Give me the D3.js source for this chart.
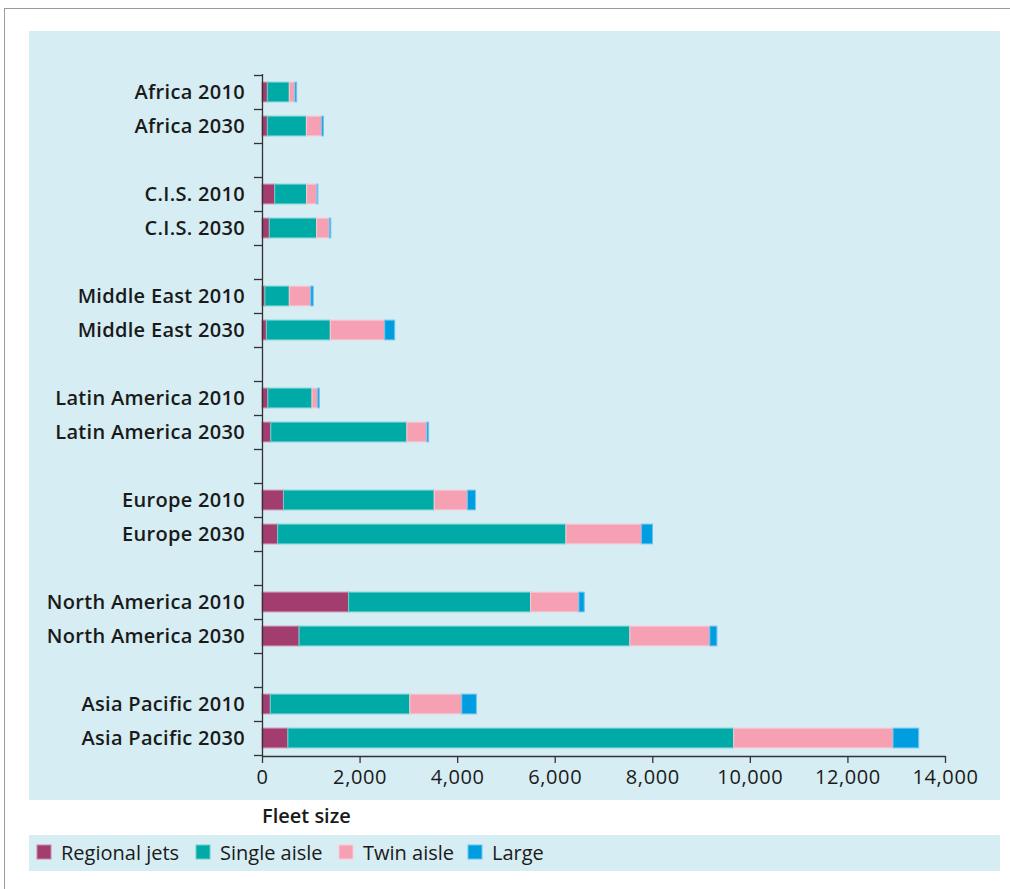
<!DOCTYPE html>
<html><head><meta charset="utf-8">
<script src="https://cdn.jsdelivr.net/npm/d3@7/dist/d3.min.js"></script>
<style>
html,body{margin:0;padding:0;background:#fff;}
svg{display:block;}
text{font-family:"Open Sans",sans-serif;fill:#1a1a1a;}
</style></head><body>
<svg id="c" width="1010" height="889"></svg>
<script>
const categories = ["Africa 2010","Africa 2030","","C.I.S. 2010","C.I.S. 2030","",
  "Middle East 2010","Middle East 2030","","Latin America 2010","Latin America 2030","",
  "Europe 2010","Europe 2030","","North America 2010","North America 2030","",
  "Asia Pacific 2010","Asia Pacific 2030"];
const seriesNames = ["Regional jets","Single aisle","Twin aisle","Large"];
const regionalJets = [110,110,null,260,150,null,60,90,null,120,180,null,440,320,null,1775,760,null,170,530];
const singleAisle  = [450,800,null,655,970,null,500,1310,null,905,2790,null,3090,5910,null,3730,6780,null,2860,9140];
const twinAisle    = [115,315,null,210,260,null,440,1115,null,115,410,null,680,1550,null,990,1640,null,1065,3265];
const large        = [35,35,null,20,30,null,50,205,null,35,35,null,165,225,null,110,145,null,300,525];
const xTicks = [0,2000,4000,6000,8000,10000,12000,14000];
const colors = ["#a33d6f","#00aba7","#f6a0b4","#009ee0"];
const strokes = ["#c98aa8","#6fcfcb","#fbc9d5","#6cc4ee"];

const svg = d3.select("#c");
// outer frame
svg.append("line").attr("x1",4).attr("x2",1010).attr("y1",8.5).attr("y2",8.5).attr("stroke","#9a9a9a").attr("stroke-width",1);
svg.append("line").attr("x1",4.5).attr("x2",4.5).attr("y1",8).attr("y2",889).attr("stroke","#9a9a9a").attr("stroke-width",1);
// panels
svg.append("rect").attr("x",29).attr("y",31).attr("width",971).attr("height",769).attr("fill","#d5edf3");
svg.append("rect").attr("x",29).attr("y",835).attr("width",971).attr("height",36).attr("fill","#d5edf3");

const x = d3.scaleLinear().domain([0,14000]).range([262,945]);
const idx = d3.range(categories.length);
const y = d3.scaleBand().domain(idx).range([75,755]).paddingInner(0.42).paddingOuter(0.21);
const yLine = d3.scaleBand().domain(idx).range([75,755]);

const data = idx.map(i => ({i, vals:[regionalJets[i],singleAisle[i],twinAisle[i],large[i]]}));
const g = svg.append("g");
data.forEach(d => {
  if (d.vals[0] == null) return;
  let acc = 0;
  d.vals.forEach((v,k) => {
    g.append("rect")
      .attr("x", x(acc)).attr("y", y(d.i))
      .attr("width", x(acc+v)-x(acc)).attr("height", y.bandwidth())
      .attr("fill", colors[k]).attr("stroke", strokes[k]).attr("stroke-width",1);
    acc += v;
  });
});

// y axis line + ticks
const axisColor = "#333";
svg.append("line").attr("x1",262.5).attr("x2",262.5).attr("y1",74).attr("y2",756).attr("stroke",axisColor).attr("stroke-width",1.3);
const bounds = idx.map(i => yLine(i)).concat([755]);
svg.selectAll(".yt").data(bounds).enter().append("line")
  .attr("x1",254).attr("x2",262).attr("y1",d=>d+0.5).attr("y2",d=>d+0.5)
  .attr("stroke",axisColor).attr("stroke-width",1.3);
// y labels
svg.selectAll(".yl").data(data.filter(d=>categories[d.i])).enter().append("text")
  .attr("x",245).attr("y",d=>y(d.i)+y.bandwidth()/2).attr("dy","0.35em")
  .attr("text-anchor","end").attr("font-size",20).attr("font-weight",600)
  .attr("letter-spacing","0.3")
  .text(d=>categories[d.i]);

// x axis
const xa = svg.append("g").attr("transform","translate(0,756)")
  .call(d3.axisBottom(x).tickValues(xTicks).tickFormat(d3.format(",")).tickSize(7).tickSizeOuter(0));
xa.select(".domain").attr("stroke",axisColor).attr("stroke-width",1.3);
xa.selectAll(".tick line").attr("stroke",axisColor).attr("stroke-width",1.3);
xa.selectAll(".tick text").attr("font-size",20).attr("font-family","Open Sans").attr("fill","#1a1a1a")
  .attr("letter-spacing","0.6").attr("dy","0.9em");

svg.append("text").attr("x",262).attr("y",823).attr("font-size",20).attr("font-weight",600).text("Fleet size");

// legend
const lx = [37,196,339,468];
seriesNames.forEach((n,k) => {
  svg.append("rect").attr("x",lx[k]).attr("y",845).attr("width",14).attr("height",14)
    .attr("fill",colors[k]).attr("stroke",strokes[k]).attr("stroke-width",1);
  svg.append("text").attr("x",lx[k]+24).attr("y",860).attr("font-size",20).text(n);
});
</script>
</body></html>
